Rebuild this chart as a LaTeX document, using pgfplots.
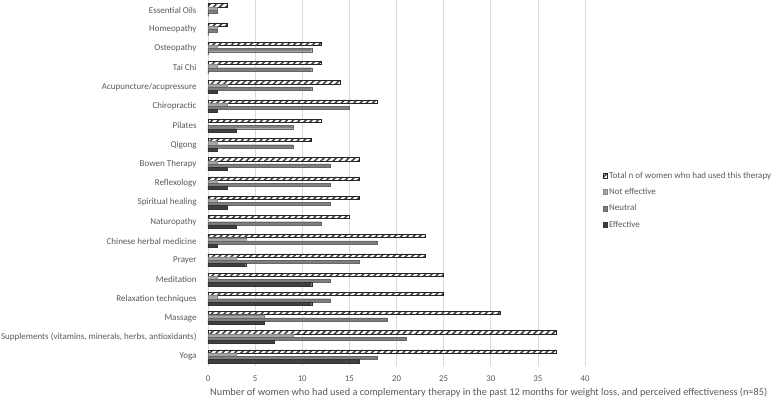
\documentclass[border=0pt]{standalone}
\usepackage{pgfplots}
\pgfplotsset{compat=1.18}
\usepackage{pgfplotstable}
\usepackage{fontspec}
\setmainfont{Carlito}
\usetikzlibrary{patterns.meta}
\definecolor{txt}{HTML}{595959}
\definecolor{grd}{HTML}{D9D9D9}
\definecolor{ne}{HTML}{A6A6A6}
\definecolor{neu}{HTML}{7F7F7F}
\definecolor{eff}{HTML}{404040}
\definecolor{hatch}{HTML}{404040}
\pgfplotstableread{
idx total noteff neutral eff
0 2 1 1 0
1 2 1 1 0
2 12 1 11 0
3 12 1 11 0
4 14 2 11 1
5 18 2 15 1
6 12 0 9 3
7 11 1 9 1
8 16 1 13 2
9 16 1 13 2
10 16 1 13 2
11 15 0 12 3
12 23 4 18 1
13 23 3 16 4
14 25 1 13 11
15 25 1 13 11
16 31 6 19 6
17 37 9 21 7
18 37 3 18 16
}\datatable
\begin{document}
\begin{tikzpicture}
\path[use as bounding box] (-208pt,-35pt) rectangle (570pt,366pt);
\begin{axis}[
  at={(0,0)}, anchor=south west,
  scale only axis, width=377pt, height=365.6pt,
  xbar, bar width=3.2pt,
  xmin=0, xmax=40, ymin=-0.5, ymax=18.5, y dir=reverse,
  xtick={0,5,...,40},
  ytick={0,...,18},
  yticklabels={Essential Oils,Homeopathy,Osteopathy,Tai Chi,Acupuncture/acupressure,Chiropractic,Pilates,Qigong,Bowen Therapy,Reflexology,Spiritual healing,Naturopathy,Chinese herbal medicine,Prayer,Meditation,Relaxation techniques,Massage,{Supplements (vitamins, minerals, herbs, antioxidants)},Yoga},
  xmajorgrids, major grid style={grd, line width=0.6pt},
  axis x line*=bottom, axis y line*=left,
  x axis line style={draw=none},
  y axis line style={draw=grd, line width=0.8pt, -},
  tick style={draw=none},
  /pgf/number format/assume math mode=true,
  xticklabel style={font=\fontsize{8.8}{10}\selectfont, text=txt, inner sep=0pt, yshift=-10pt},
  yticklabel style={font=\fontsize{9.0}{10}\selectfont, text=txt, inner sep=0pt, xshift=-7pt},
  xlabel={Number of women who had used a complementary therapy in the past 12 months for weight loss, and perceived effectiveness (n=85)},
  xlabel style={at={(rel axis cs:0,0)}, anchor=north west, inner sep=0pt, yshift=-22pt, xshift=2pt, font=\fontsize{10.3}{11}\selectfont, text=txt},
  legend style={at={(rel axis cs:1.046,0.535)}, anchor=north west, draw=none, fill=none, inner sep=0pt,
    font=\fontsize{9}{10}\selectfont, text=txt, row sep=6.2pt, nodes={inner sep=1.2pt}},
  legend cell align=left,
  legend image code/.code={\draw[#1] (0pt,-2.4pt) rectangle (4.8pt,2.4pt);},
]
\addplot[bar shift=4.8pt, fill=white, draw=black!85, line width=0.5pt,
  postaction={pattern={Lines[angle=45,distance=4.4pt,line width=1.6pt]}, pattern color=hatch}]
  table[x=total, y=idx]{\datatable};
\addplot[bar shift=1.6pt, fill=ne, draw=ne!80!black, line width=0.3pt] table[x=noteff, y=idx]{\datatable};
\addplot[bar shift=-1.6pt, fill=neu, draw=neu!80!black, line width=0.3pt] table[x=neutral, y=idx]{\datatable};
\addplot[bar shift=-4.8pt, fill=eff, draw=eff!80!black, line width=0.3pt] table[x=eff, y=idx]{\datatable};
\legend{Total n of women who had used this therapy,Not effective,Neutral,Effective}
\end{axis}
\end{tikzpicture}
\end{document}
